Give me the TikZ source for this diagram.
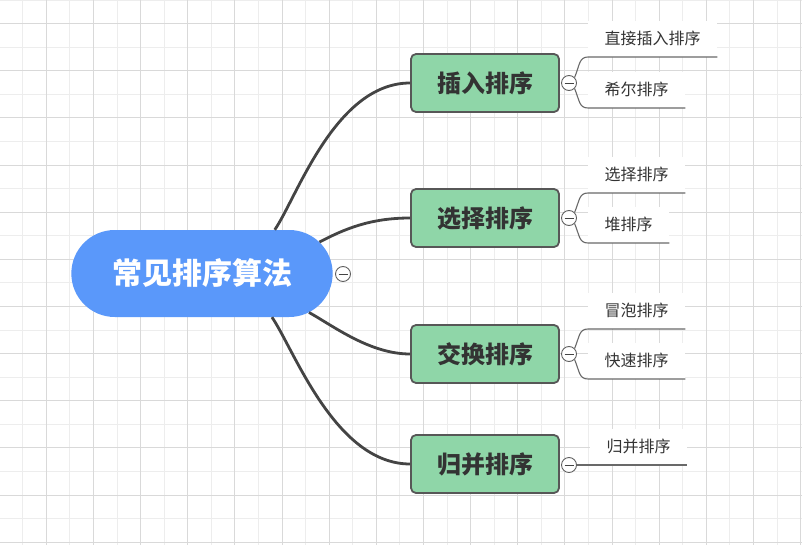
\documentclass[tikz,border=0pt]{standalone}
\usepackage{fontspec}
\setmainfont{Noto Sans CJK SC}
\usetikzlibrary{shapes.misc}
\definecolor{rootblue}{HTML}{5A98FA}
\definecolor{topicgreen}{HTML}{8FD6A8}
\definecolor{edgegray}{HTML}{444444}
\definecolor{textgray}{HTML}{333333}
\definecolor{gridlight}{HTML}{EDEDED}
\definecolor{griddark}{HTML}{D9D9D9}

\begin{document}
\begin{tikzpicture}[x=1pt,y=-1pt,
  root/.style={rounded rectangle,fill=rootblue,text=white,
    font=\fontsize{30}{30}\selectfont\bfseries,
    minimum width=268pt,minimum height=87pt},
  topic/.style={rectangle,rounded corners=5pt,draw=edgegray!90,line width=1.8pt,
    fill=topicgreen,text=textgray,font=\fontsize{24}{24}\selectfont\bfseries,
    minimum width=148pt,minimum height=58pt},
  leaf/.style={rectangle,fill=white,inner sep=0pt,inner xsep=16.5pt,
    minimum height=36pt,anchor=south west,text=textgray,
    font=\fontsize{16}{16}\selectfont},
  toggle/.style={circle,draw=edgegray!85,fill=white,line width=0.9pt,
    minimum size=15pt,inner sep=0pt,
    path picture={\draw[edgegray,line width=0.9pt]
      ([xshift=-4.5pt]path picture bounding box.center) --
      ([xshift=4.5pt]path picture bounding box.center);}},
  branch/.style={draw=edgegray,line width=2.8pt},
  twig/.style={draw=edgegray!80,line width=1.1pt}]

  \useasboundingbox (0,0) rectangle (802,545);
  \fill[white] (0,0) rectangle (802,545);

  % grid
  \foreach \k in {0,...,33}
    \draw[gridlight,line width=0.9pt] ({22.7+23.57*\k},0) -- ++(0,545);
  \foreach \k in {0,...,23}
    \draw[gridlight,line width=0.9pt] (0,{23.57*\k}) -- ++(802,0);
  \foreach \k in {1,3,...,33}
    \draw[griddark,line width=0.9pt] ({22.7+23.57*\k},0) -- ++(0,545);
  \foreach \k in {1,3,...,23}
    \draw[griddark,line width=0.9pt] (0,{23.57*\k}) -- ++(802,0);

  \node[root] (root) at (202,273.5) {常见排序算法};
  \node[toggle] (t0) at (343,274) {};

  \node[topic] (b1) at (485,83) {插入排序};
  \node[topic] (b2) at (485,218) {选择排序};
  \node[topic] (b3) at (485,354) {交换排序};
  \node[topic] (b4) at (485,464) {归并排序};

  \draw[branch] (root.31) .. controls +(22,-32) and +(-75,0) .. (b1.west);
  \draw[branch] (root.15) .. controls +(25,-13) and +(-40,0) .. (b2.west);
  \draw[branch] (root.-20) .. controls +(25,14) and +(-40,0) .. (b3.west);
  \draw[branch] (root.-32) .. controls +(22,32) and +(-75,0) .. (b4.west);

  \node[toggle] (t1) at (569,83) {};
  \node[toggle] (t2) at (569,218) {};
  \node[toggle] (t3) at (569,354) {};
  \node[toggle] (t4) at (569,465) {};

  \node[leaf] (l1a) at (588,57) {直接插入排序};
  \node[leaf] (l1b) at (588,108) {希尔排序};
  \node[leaf] (l2a) at (588,193) {选择排序};
  \node[leaf] (l2b) at (588,243) {堆排序};
  \node[leaf] (l3a) at (588,329) {冒泡排序};
  \node[leaf] (l3b) at (588,379) {快速排序};
  \node[leaf] (l4a) at (590,465) {归并排序};

  \draw[twig] (t1.north east) .. controls +(5,-12) and +(-9,0) .. (l1a.south west) -- (l1a.south east);
  \draw[twig] (t1.south east) .. controls +(5,12) and +(-9,0) .. (l1b.south west) -- (l1b.south east);
  \draw[twig] (t2.north east) .. controls +(5,-12) and +(-9,0) .. (l2a.south west) -- (l2a.south east);
  \draw[twig] (t2.south east) .. controls +(5,12) and +(-9,0) .. (l2b.south west) -- (l2b.south east);
  \draw[twig] (t3.north east) .. controls +(5,-12) and +(-9,0) .. (l3a.south west) -- (l3a.south east);
  \draw[twig] (t3.south east) .. controls +(5,12) and +(-9,0) .. (l3b.south west) -- (l3b.south east);
  \draw[twig] (t4.east) -- (l4a.south east);
\end{tikzpicture}
\end{document}
